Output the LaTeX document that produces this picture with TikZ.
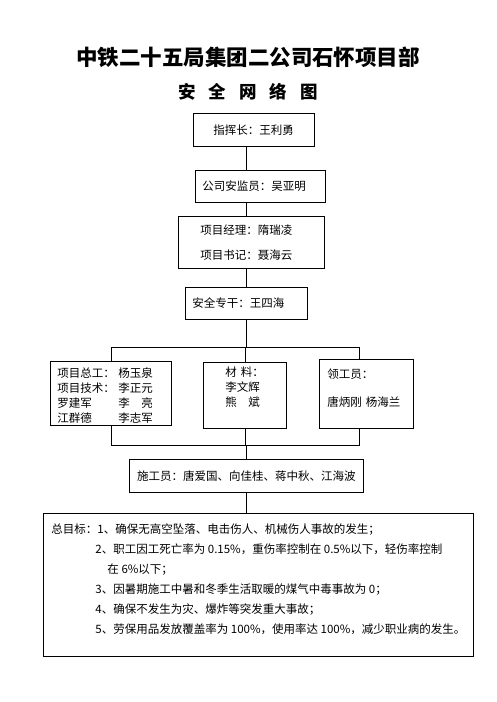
\documentclass[tikz,border=0pt]{standalone}
\usepackage{fontspec}
\setmainfont{Noto Sans CJK SC}
\usepackage{tikz}
\usetikzlibrary{positioning}

\newcommand{\cgap}{\hspace{13pt}}
\newcommand{\lift}[2]{\raisebox{#1}[\height][\depth]{#2}}

\begin{document}
\begin{tikzpicture}[
			x=1pt,y=-1pt,
			every node/.style={font=\fontsize{11.5}{15}\selectfont},
			box/.style={
				draw,
				line width=0.9pt,
				anchor=north west,
				inner ysep=0pt,
				align=left
			},
			title/.style={font=\fontsize{21.5}{24}\selectfont\bfseries},
			subtitle/.style={font=\fontsize{17.5}{20}\selectfont\bfseries},
			link/.style={line width=0.9pt}
			]
			
			\useasboundingbox (0,0) rectangle (496,702);
			
			\node[title] (head) at (248,57) {中铁二十五局集团二公司石怀项目部};
			\node[subtitle] (sub) at (248,92) {安\cgap 全\cgap 网\cgap 络\cgap 图};
			
			\node[box,inner xsep=20pt,text width=81pt,minimum height=33pt] (chief)
			at (193,113) {指挥长：王利勇};
			
			\node[box,inner xsep=7pt,text width=116pt,minimum height=32pt] (super)
			at (195,170) {公司安监员：吴亚明};
			
			\node[box,inner xsep=22pt,text width=102pt,minimum height=52pt] (manager)
			at (178,216) {项目经理：隋瑞凌\\[10pt]项目书记：聂海云};
			
			\node[box,inner xsep=7pt,text width=108pt,minimum height=32pt] (safety)
			at (185,287) {安全专干：王四海};
			
			\node[box,inner xsep=7pt,text width=107pt,minimum height=64pt] (tech)
			at (50,361) {\lift{-4pt}{\begin{tabular}{@{}p{61pt}@{}l@{}}
				项目总工： & 杨玉泉\\
				项目技术： & 李正元\\
				罗建军 & 李　亮\\
				江群德 & 李志军
			\end{tabular}}};
			
			\node[box,inner xsep=22pt,text width=39pt,minimum height=66pt] (material)
			at (203,362) {\lift{7pt}{\begin{tabular}{@{}l@{}}
				材 料：\\李文辉\\熊　斌
			\end{tabular}}};
			
			\node[box,inner xsep=8pt,text width=78pt,minimum height=69pt] (foreman)
			at (319,359) {\lift{4pt}{\begin{tabular}{@{}l@{}}
				领工员：\\[13pt]唐炳刚 杨海兰
			\end{tabular}}};
			
			\node[box,inner xsep=0pt,minimum width=234pt,minimum height=33pt,align=center] (worker)
			at (129,459) {施工员：唐爱国、向佳桂、蒋中秋、江海波};
			
			\node[box,inner xsep=8pt,minimum width=408pt,minimum height=143pt,
			font=\fontsize{11.5}{20}\selectfont] (goal)
			at (43,513) {\lift{5pt}{\begin{tabular}{@{}l@{}}
				总目标：1、确保无高空坠落、电击伤人、机械伤人事故的发生；\\
				\hspace*{44pt}2、职工因工死亡率为 0.15\%，重伤率控制在 0.5\%以下，轻伤率控制\\
				\hspace*{56pt}在 6\%以下；\\
				\hspace*{44pt}3、因暑期施工中暑和冬季生活取暖的煤气中毒事故为 0；\\
				\hspace*{44pt}4、确保不发生为灾、爆炸等突发重大事故；\\
				\hspace*{44pt}5、劳保用品发放覆盖率为 100\%，使用率达 100\%，减少职业病的发生。
			\end{tabular}}};
			
			% spine and bus lines
			\coordinate (spine) at (246,0);
			\coordinate (rtap) at (359,0);
			\coordinate (topbus) at (0,347);
			\coordinate (botbus) at (0,445);
			
			\draw[link] (chief.south -| spine) -- (super.north -| spine);
			\draw[link] (super.south -| spine) -- (manager.north -| spine);
			\draw[link] (manager.south -| spine) -- (safety.north -| spine);
			\draw[link] (safety.south -| spine) -- (topbus -| spine);
			
			\draw[link] (tech.north) |- (topbus -| rtap) -- (foreman.north -| rtap);
			\draw[link] (material.north) -- (material.north |- topbus);
			
			\draw[link] (tech.south) |- (botbus -| rtap) -- (foreman.south -| rtap);
			\draw[link] (material.south) -- (material.south |- botbus);
			
			\draw[link] (botbus -| spine) -- (worker.north -| spine);
			\draw[link] (worker.south -| spine) -- (goal.north -| spine);
			
		\end{tikzpicture}
\end{document}
